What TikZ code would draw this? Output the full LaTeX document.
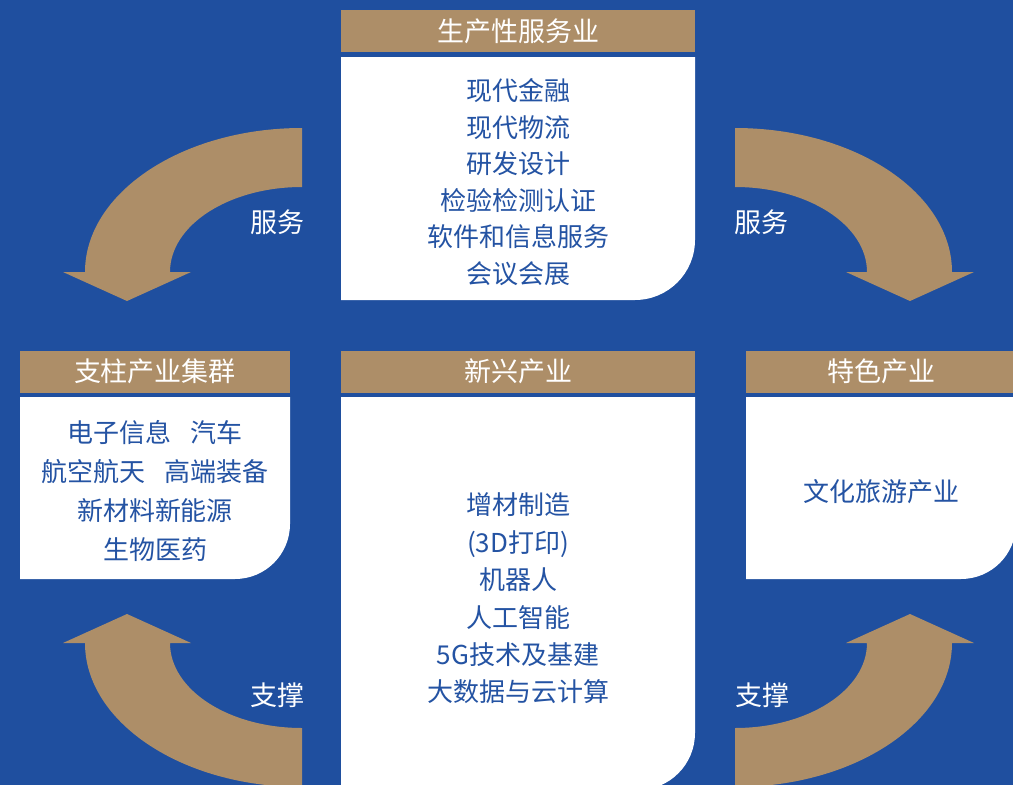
\documentclass[tikz,border=0pt]{standalone}
\usepackage{fontspec}
\setmainfont{Noto Sans CJK SC}
\definecolor{bgblue}{HTML}{1F4F9F}
\definecolor{txtblue}{HTML}{2453A3}
\definecolor{tan}{HTML}{AD8E68}
\tikzset{
  header/.style={fill=tan, text=white, font=\fontsize{27}{30}\selectfont, inner sep=0pt, outer sep=0pt, minimum height=42pt, text height=21pt, text depth=1pt},
  whitebox/.style={fill=white},
  body/.style={text=txtblue, align=center, inner sep=0pt, font=\fontsize{26}{36.5}\selectfont},
  flowlabel/.style={text=white, inner sep=0pt, font=\fontsize{27}{30}\selectfont},
  flow/.style={fill=tan}
}
\begin{document}
\begin{tikzpicture}[x=1pt,y=-1pt]
\useasboundingbox (0,0) rectangle (1013,785);
\clip (0,0) rectangle (1013,785);
\fill[bgblue] (0,0) rectangle (1013,785);

% white boxes
\fill[whitebox] (341,57) -- (695,57) -- (695,240) .. controls (695,273.1) and (668.1,300) .. (635,300) -- (341,300) -- cycle;
\fill[whitebox] (20,397) -- (290,397) -- (290,524) .. controls (290,554.4) and (265.4,579) .. (235,579) -- (20,579) -- cycle;
\fill[whitebox] (341,397) -- (695,397) -- (695,733) .. controls (695,764.5) and (669.5,790) .. (638,790) -- (341,790) -- cycle;
\fill[whitebox] (746,397) -- (1016,397) -- (1016,524) .. controls (1016,554.4) and (991.4,579) .. (961,579) -- (746,579) -- cycle;

% headers
\node[header, minimum width=354pt] (hTop) at (518,31) {生产性服务业};
\node[header, minimum width=270pt] (hLeft) at (155,371.5) {支柱产业集群};
\node[header, minimum width=354pt] (hMid) at (518,371.5) {新兴产业};
\node[header, minimum width=270pt] (hRight) at (881,371.5) {特色产业};

% body texts
\node[body] (tTop) at (518,182) {现代金融\\现代物流\\研发设计\\检验检测认证\\软件和信息服务\\会议会展};
\node[body, font=\fontsize{26}{39}\selectfont] (tLeft) at (155,491) {电子信息\hspace{0.7em}汽车\\航空航天\hspace{0.7em}高端装备\\新材料新能源\\生物医药};
\node[body, font=\fontsize{26}{37.4}\selectfont] (tMid) at (518,598.5) {增材制造\\(3D打印)\\机器人\\人工智能\\5G技术及基建\\大数据与云计算};
\node[body] (tRight) at (881,492) {文化旅游产业};

% curved arrows
\fill[flow] (302,128) .. controls (182,128) and (85,193) .. (85,272) -- (63,272) -- (127,301) -- (191,272) -- (170,272) .. controls (170,225) and (229,187) .. (302,187) -- cycle;
\fill[flow] (302,787) .. controls (182,787) and (85,722) .. (85,643) -- (63,643) -- (127,614) -- (191,643) -- (170,643) .. controls (170,690) and (229,728) .. (302,728) -- cycle;
\fill[flow] (735,128) .. controls (855,128) and (952,193) .. (952,272) -- (974,272) -- (910,301) -- (846,272) -- (867,272) .. controls (867,225) and (808,187) .. (735,187) -- cycle;
\fill[flow] (735,787) .. controls (855,787) and (952,722) .. (952,643) -- (974,643) -- (910,614) -- (846,643) -- (867,643) .. controls (867,690) and (808,728) .. (735,728) -- cycle;

% arrow labels
\node[flowlabel] (lTL) at (277,222) {服务};
\node[flowlabel] (lTR) at (761,222) {服务};
\node[flowlabel] (lBL) at (277,695) {支撑};
\node[flowlabel] (lBR) at (762,695) {支撑};
\end{tikzpicture}
\end{document}
